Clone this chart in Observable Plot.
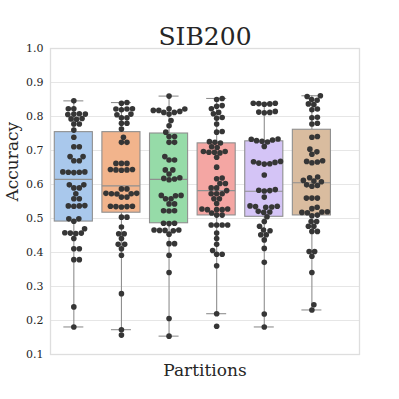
<!DOCTYPE html>
<html>
<head>
<meta charset="utf-8">
<script src="https://cdn.jsdelivr.net/npm/d3@7"></script>
<script src="https://cdn.jsdelivr.net/npm/@observablehq/plot@0.6"></script>
<style>
  html, body { margin: 0; padding: 0; background: #fff; }
</style>
</head>
<body>
<div id="chart"></div>
<script>
// ---- data ----
const partitions = ["1", "2", "3", "4", "5", "6"];
const colors = ["#a9c8ec", "#f2b48c", "#96dba8", "#f4a6a3", "#d4c4f6", "#d9bc9f"];

// box summaries (whisker low, Q1, median, Q3, whisker high)
const whiskerLow  = [0.181, 0.173, 0.154, 0.220, 0.181, 0.231];
const q1          = [0.491, 0.517, 0.486, 0.509, 0.505, 0.509];
const median      = [0.615, 0.596, 0.615, 0.582, 0.580, 0.605];
const q3          = [0.754, 0.754, 0.750, 0.721, 0.727, 0.761];
const whiskerHigh = [0.846, 0.841, 0.860, 0.853, 0.837, 0.861];

// individual accuracies (swarm points)
const p1 = [0.846, 0.823, 0.823, 0.808, 0.807, 0.806, 0.807, 0.794, 0.793, 0.792, 0.778, 0.778, 0.760, 0.739,
  0.711, 0.711, 0.682, 0.682, 0.670, 0.670, 0.637, 0.636, 0.635, 0.636, 0.637, 0.599, 0.599, 0.590, 0.590,
  0.573, 0.558, 0.558, 0.537, 0.537, 0.536, 0.538, 0.499, 0.499, 0.492, 0.470, 0.457, 0.457, 0.456, 0.458,
  0.441, 0.411, 0.411, 0.379, 0.379, 0.240, 0.181];
const p2 = [0.841, 0.839, 0.823, 0.822, 0.822, 0.820, 0.807, 0.805, 0.796, 0.796, 0.780, 0.780, 0.763, 0.739,
  0.724, 0.724, 0.662, 0.662, 0.662, 0.644, 0.643, 0.642, 0.643, 0.644, 0.587, 0.587, 0.574, 0.573, 0.572,
  0.573, 0.574, 0.563, 0.563, 0.536, 0.535, 0.534, 0.535, 0.536, 0.504, 0.504, 0.475, 0.455, 0.455, 0.441,
  0.424, 0.424, 0.411, 0.392, 0.279, 0.173, 0.157];
const p3 = [0.860, 0.823, 0.822, 0.818, 0.818, 0.815, 0.812, 0.812, 0.807, 0.788, 0.773, 0.754, 0.741, 0.741,
  0.724, 0.724, 0.682, 0.672, 0.672, 0.643, 0.643, 0.631, 0.620, 0.618, 0.616, 0.614, 0.568, 0.568, 0.567,
  0.558, 0.558, 0.543, 0.543, 0.523, 0.523, 0.522, 0.486, 0.486, 0.485, 0.466, 0.465, 0.465, 0.464, 0.466,
  0.454, 0.426, 0.426, 0.392, 0.341, 0.206, 0.154];
const p4 = [0.853, 0.850, 0.832, 0.830, 0.823, 0.812, 0.808, 0.797, 0.795, 0.778, 0.756, 0.754, 0.726, 0.724,
  0.722, 0.711, 0.709, 0.697, 0.695, 0.695, 0.693, 0.697, 0.680, 0.651, 0.619, 0.617, 0.603, 0.603, 0.590,
  0.590, 0.582, 0.573, 0.573, 0.573, 0.558, 0.558, 0.544, 0.528, 0.526, 0.526, 0.526, 0.528, 0.516, 0.510,
  0.510, 0.481, 0.481, 0.481, 0.481, 0.457, 0.441, 0.424, 0.406, 0.395, 0.395, 0.361, 0.220, 0.183];
const p5 = [0.839, 0.838, 0.837, 0.836, 0.839, 0.815, 0.812, 0.811, 0.813, 0.734, 0.733, 0.731, 0.729, 0.727,
  0.725, 0.712, 0.668, 0.667, 0.665, 0.663, 0.661, 0.660, 0.628, 0.585, 0.583, 0.582, 0.581, 0.563, 0.537,
  0.536, 0.535, 0.534, 0.533, 0.521, 0.519, 0.518, 0.505, 0.491, 0.477, 0.466, 0.464, 0.452, 0.452, 0.437,
  0.412, 0.371, 0.219, 0.181];
const p6 = [0.861, 0.859, 0.850, 0.848, 0.837, 0.835, 0.822, 0.820, 0.798, 0.796, 0.780, 0.778, 0.741, 0.739,
  0.704, 0.696, 0.689, 0.670, 0.668, 0.666, 0.664, 0.622, 0.620, 0.612, 0.610, 0.608, 0.599, 0.597, 0.595,
  0.560, 0.560, 0.560, 0.533, 0.529, 0.520, 0.519, 0.518, 0.517, 0.510, 0.508, 0.491, 0.491, 0.477, 0.477,
  0.462, 0.462, 0.403, 0.403, 0.389, 0.341, 0.246, 0.231];
const points = [p1, p2, p3, p4, p5, p6];

const yTicks = [0.1, 0.2, 0.3, 0.4, 0.5, 0.6, 0.7, 0.8, 0.9, 1.0];

// ---- layout ----
const W = 399, H = 399;
const mL = 50, mR = 40, mT = 48, mB = 45;
const xDomain = [-0.49, 6.0];
const yDomain = [0.1, 1.0];
const pxPerX = (W - mL - mR) / (xDomain[1] - xDomain[0]);
const pxPerY = (H - mT - mB) / (yDomain[1] - yDomain[0]);
const dotR = 2.8;
const D = 5.4; // min centre distance in the swarm

const stats = partitions.map((p, i) => ({
  i, p, color: colors[i],
  lo: whiskerLow[i], q1: q1[i], med: median[i], q3: q3[i], hi: whiskerHigh[i]
}));

// beeswarm: place points in ascending order at the smallest free offset
const swarm = [];
points.forEach((vals, i) => {
  const placed = [];
  vals.slice().sort((a, b) => a - b).forEach(v => {
    const yp = v * pxPerY;
    let off = 0;
    for (let k = 0; k < 400; k++) {
      const cands = k === 0 ? [0] : [k * 0.25, -k * 0.25];
      let found = null;
      for (const c of cands) {
        if (placed.every(q => (q.x - c) ** 2 + (q.y - yp) ** 2 >= D * D)) { found = c; break; }
      }
      if (found !== null) { off = found; break; }
    }
    placed.push({x: off, y: yp});
    swarm.push({p: partitions[i], v, x: i + off / pxPerX});
  });
});

const boxStroke = "#8f8f8f";
const font = "'DejaVu Serif', serif";

const chart = Plot.plot({
  width: W, height: H,
  marginLeft: mL, marginRight: mR, marginTop: mT, marginBottom: mB,
  style: {fontFamily: font, fontSize: "11px", color: "#262626", background: "#fff"},
  x: {type: "linear", domain: xDomain, axis: null},
  y: {domain: yDomain, axis: null},
  marks: [
    Plot.ruleY(yTicks.slice(1, -1), {stroke: "#e6e6e6", strokeWidth: 1}),
    Plot.frame({stroke: "#dedede", strokeWidth: 1.3}),
    Plot.axisY(yTicks, {tickSize: 0, tickPadding: 7, tickFormat: d3.format(".1f"),
      fontSize: 11, label: null, fill: "#262626"}),
    Plot.ruleX(stats, {x: "i", y1: "lo", y2: "hi", stroke: boxStroke, strokeWidth: 1.1}),
    Plot.ruleY(stats, {y: "lo", x1: d => d.i - 0.21, x2: d => d.i + 0.21, stroke: boxStroke, strokeWidth: 1.1}),
    Plot.ruleY(stats, {y: "hi", x1: d => d.i - 0.21, x2: d => d.i + 0.21, stroke: boxStroke, strokeWidth: 1.1}),
    Plot.rect(stats, {x1: d => d.i - 0.4, x2: d => d.i + 0.4, y1: "q1", y2: "q3",
      fill: "color", stroke: boxStroke, strokeWidth: 1.1}),
    Plot.ruleY(stats, {y: "med", x1: d => d.i - 0.4, x2: d => d.i + 0.4, stroke: boxStroke, strokeWidth: 1.1}),
    Plot.dot(swarm, {x: "x", y: "v", r: dotR, fill: "#363636", stroke: null}),
    Plot.text(["SIB200"], {frameAnchor: "top", dy: -4, fontSize: 25, fill: "#262626",
      textAnchor: "middle", lineAnchor: "bottom"}),
    Plot.text(["Partitions"], {frameAnchor: "bottom", dy: 21, fontSize: 17, fill: "#262626"}),
    Plot.text(["Accuracy"], {frameAnchor: "left", dx: -38, rotate: -90, fontSize: 17, fill: "#262626"})
  ]
});
document.getElementById("chart").appendChild(chart);
</script>
</body>
</html>
